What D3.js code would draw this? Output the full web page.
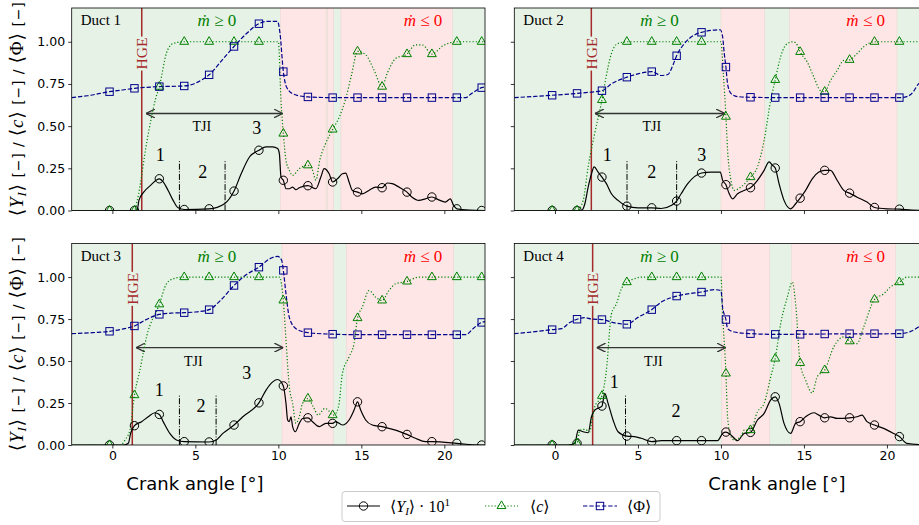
<!DOCTYPE html>
<html>
<head>
<meta charset="utf-8">
<script src="https://cdn.jsdelivr.net/npm/d3@7"></script>
<style>
  body { margin: 0; background: #fff; }
  svg { display: block; }
</style>
</head>
<body>
<div id="chart"></div>
<script>
// marker positions (crank angle) shared by every curve
var markerX = [-0.17, 1.33, 2.83, 4.33, 5.83, 7.33, 8.83, 10.3, 11.78, 13.27, 14.77, 16.25, 17.75, 19.25, 20.75, 22.25];

// ---- Duct 1
var duct1Yi = [[-2.45,0],[1.33,0],[1.5,0.004],[1.6,0.06],[1.9,0.11],[2.3,0.149],[2.83,0.188],[3.06,0.17],[3.36,0.119],[3.66,0.06],[3.96,0.016],[4.33,0.006],[5.83,0.01],[6.76,0.04],[7.33,0.115],[7.76,0.218],[8.26,0.317],[8.83,0.357],[9.26,0.377],[9.66,0.377],[9.96,0.367],[10.06,0.337],[10.16,0.198],[10.3,0.179],[10.46,0.129],[10.66,0.129],[10.86,0.139],[11.06,0.123],[11.26,0.135],[11.78,0.147],[12.26,0.129],[12.56,0.198],[12.76,0.248],[13.06,0.218],[13.27,0.169],[13.56,0.188],[13.86,0.218],[14.06,0.222],[14.26,0.169],[14.46,0.119],[14.77,0.109],[15.06,0.099],[15.46,0.119],[15.86,0.139],[16.25,0.135],[16.56,0.163],[16.86,0.159],[17.26,0.139],[17.75,0.109],[18.06,0.079],[18.46,0.06],[18.86,0.069],[19.25,0.08],[19.66,0.063],[20.06,0.05],[20.36,0.069],[20.56,0.03],[20.75,0.01],[21.5,0.002],[22.45,0]];
var duct1YiMk = [0, 0, 0.188, 0.006, 0.01, 0.115, 0.357, 0.179, 0.147, 0.169, 0.109, 0.135, 0.109, 0.08, 0.01, 0];
var duct1C = [[-2.45,0],[1.33,0],[1.5,0.06],[2.1,0.42],[2.6,0.66],[2.83,0.734],[3.26,0.933],[3.66,0.99],[4.33,1],[8.83,1],[10.0,1],[10.16,0.65],[10.3,0.456],[10.46,0.298],[10.66,0.238],[10.86,0.208],[11.26,0.248],[11.78,0.268],[12.06,0.238],[12.26,0.18],[12.5,0.3],[12.86,0.4],[13.27,0.48],[13.7,0.56],[14.05,0.66],[14.4,0.8],[14.77,0.943],[15.26,0.923],[15.76,0.833],[16.25,0.734],[16.56,0.813],[17.06,0.9],[17.75,0.927],[18.26,0.982],[18.7,0.98],[19.25,0.927],[19.9,0.975],[20.75,1],[22.45,1]];
var duct1CMk = [0, 0, 0.734, 1, 1, 1, 1, 0.456, 0.268, 0.48, 0.943, 0.734, 0.927, 0.927, 1, 1];
var duct1Phi = [[-2.45,0.669],[-1.5,0.68],[-0.17,0.704],[0.6,0.714],[1.33,0.724],[2.83,0.734],[4.33,0.738],[4.9,0.75],[5.4,0.775],[5.83,0.804],[6.6,0.89],[7.33,0.972],[8.1,1.05],[8.83,1.107],[9.3,1.121],[9.95,1.121],[10.1,1.05],[10.3,0.823],[10.5,0.73],[10.9,0.69],[11.78,0.673],[13.27,0.669],[21.3,0.669],[21.6,0.69],[21.9,0.71],[22.25,0.728],[22.45,0.732]];
var duct1PhiMk = [0.704, 0.724, 0.734, 0.738, 0.804, 0.972, 1.107, 0.823, 0.673, 0.669, 0.669, 0.669, 0.669, 0.669, 0.669, 0.728];
var duct1Neg = [[10.12,12.88],[12.95,13.32],[13.77,20.48]];

// ---- Duct 2
var duct2Yi = [[-2.45,0],[1.6,0],[1.8,0.04],[2.0,0.139],[2.2,0.218],[2.36,0.258],[2.6,0.228],[2.83,0.198],[3.1,0.159],[3.4,0.099],[3.8,0.06],[4.33,0.026],[5.0,0.016],[5.83,0.016],[6.4,0.012],[7.0,0.03],[7.33,0.056],[7.6,0.099],[8.0,0.159],[8.83,0.222],[9.4,0.228],[9.96,0.228],[10.1,0.179],[10.3,0.153],[10.5,0.099],[10.7,0.069],[11.0,0.099],[11.4,0.119],[11.78,0.135],[12.2,0.179],[12.6,0.238],[12.9,0.288],[13.1,0.268],[13.27,0.252],[13.5,0.159],[13.8,0.06],[14.2,0.01],[14.5,0.04],[14.77,0.073],[15.1,0.119],[15.5,0.188],[15.9,0.228],[16.25,0.238],[16.6,0.238],[17.0,0.179],[17.4,0.119],[17.75,0.103],[18.2,0.079],[18.8,0.05],[19.25,0.018],[20.0,0.01],[20.75,0.008],[21.5,0.002],[22.45,0]];
var duct2YiMk = [0, 0, 0.198, 0.026, 0.016, 0.056, 0.222, 0.153, 0.135, 0.252, 0.073, 0.238, 0.103, 0.018, 0.008, 0];
var duct2C = [[-2.45,0],[1.33,0],[1.7,0.06],[2.0,0.26],[2.4,0.46],[2.83,0.655],[3.0,0.75],[3.4,0.93],[3.8,0.99],[4.33,1],[10.0,1],[10.15,0.8],[10.3,0.556],[10.4,0.357],[10.6,0.179],[10.8,0.119],[11.2,0.139],[11.78,0.198],[12.2,0.258],[12.6,0.415],[13.0,0.655],[13.27,0.774],[13.6,0.913],[14.0,0.99],[14.36,1],[14.6,0.98],[14.77,0.94],[15.2,0.88],[15.6,0.79],[16.0,0.71],[16.25,0.704],[16.6,0.77],[17.0,0.83],[17.4,0.89],[17.75,0.893],[18.2,0.93],[18.6,0.97],[19.25,1],[22.45,1]];
var duct2CMk = [0, 0, 0.655, 1, 1, 1, 1, 0.556, 0.198, 0.774, 0.94, 0.704, 0.893, 1, 1, 1];
var duct2Phi = [[-2.45,0.669],[-1.2,0.676],[-0.17,0.683],[0.6,0.688],[1.33,0.694],[2.0,0.7],[2.83,0.71],[3.4,0.75],[4.33,0.79],[5.0,0.81],[5.83,0.823],[6.4,0.8],[6.8,0.806],[7.1,0.86],[7.33,0.917],[7.8,0.99],[8.4,1.04],[8.83,1.056],[9.4,1.067],[9.96,1.071],[10.1,1.03],[10.2,0.93],[10.3,0.85],[10.4,0.75],[10.6,0.694],[11.0,0.675],[11.78,0.671],[13.27,0.669],[20.75,0.669],[21.2,0.675],[21.6,0.705],[21.85,0.744],[22.25,0.77],[22.45,0.78]];
var duct2PhiMk = [0.683, 0.694, 0.71, 0.79, 0.823, 0.917, 1.056, 0.85, 0.671, 0.669, 0.669, 0.669, 0.669, 0.669, 0.669, 0.77];
var duct2Neg = [[10.0,12.64],[14.14,20.6]];

// ---- Duct 3
var duct3Yi = [[-2.45,0],[0.66,0],[0.96,0.01],[1.1,0.069],[1.33,0.115],[1.76,0.139],[2.16,0.168],[2.56,0.192],[2.83,0.182],[3.06,0.139],[3.46,0.069],[3.86,0.03],[4.33,0.02],[5.83,0.018],[6.26,0.03],[6.66,0.069],[7.33,0.119],[7.86,0.168],[8.83,0.251],[9.26,0.327],[9.66,0.376],[9.96,0.39],[10.3,0.352],[10.46,0.248],[10.56,0.148],[10.66,0.139],[10.76,0.168],[10.86,0.109],[11.02,0.079],[11.26,0.129],[11.46,0.158],[11.78,0.162],[12.06,0.139],[12.46,0.109],[12.86,0.129],[13.27,0.129],[13.46,0.139],[13.86,0.119],[14.26,0.149],[14.56,0.208],[14.77,0.257],[14.96,0.208],[15.26,0.149],[15.66,0.119],[16.25,0.109],[16.66,0.099],[17.06,0.089],[17.75,0.063],[18.26,0.04],[18.86,0.02],[19.25,0.02],[20.75,0.01],[21.5,0.003],[22.45,0]];
var duct3YiMk = [0, 0.115, 0.182, 0.02, 0.018, 0.119, 0.251, 0.352, 0.162, 0.129, 0.257, 0.109, 0.063, 0.02, 0.01, 0];
var duct3C = [[-2.45,0],[0.5,0],[0.76,0.03],[1.06,0.089],[1.33,0.297],[1.66,0.446],[2.06,0.644],[2.83,0.838],[3.26,0.96],[3.66,0.99],[4.33,1],[10.06,1],[10.3,0.861],[10.46,0.624],[10.66,0.347],[10.86,0.248],[11.06,0.129],[11.26,0.168],[11.46,0.248],[11.78,0.277],[12.1,0.228],[12.4,0.178],[12.8,0.218],[13.0,0.208],[13.27,0.178],[13.46,0.188],[13.66,0.248],[13.86,0.426],[14.26,0.525],[14.56,0.604],[14.77,0.756],[15.06,0.822],[15.46,0.92],[15.86,0.88],[16.25,0.861],[16.66,0.92],[17.06,0.96],[17.75,0.974],[18.46,1],[22.45,1]];
var duct3CMk = [0, 0.297, 0.838, 1, 1, 1, 1, 0.861, 0.277, 0.178, 0.756, 0.861, 0.974, 1, 1, 1];
var duct3Phi = [[-2.45,0.663],[-1.2,0.669],[-0.17,0.677],[0.6,0.69],[1.33,0.709],[2.0,0.745],[2.83,0.778],[3.5,0.785],[4.33,0.788],[5.0,0.792],[5.83,0.806],[6.5,0.86],[7.33,0.95],[8.0,1.01],[8.83,1.059],[9.5,1.11],[9.96,1.123],[10.2,1.1],[10.3,1.04],[10.46,0.9],[10.66,0.76],[11.06,0.693],[11.78,0.669],[13.27,0.66],[14.77,0.657],[21.3,0.657],[21.7,0.69],[22.0,0.715],[22.25,0.73],[22.45,0.735]];
var duct3PhiMk = [0.677, 0.709, 0.778, 0.788, 0.806, 0.95, 1.059, 1.04, 0.669, 0.66, 0.657, 0.657, 0.657, 0.657, 0.657, 0.73];
var duct3Neg = [[10.22,13.3],[14.1,20.55]];

// ---- Duct 4
var duct4Yi = [[-2.45,0],[0.8,0],[1.2,0.01],[1.4,0.089],[1.7,0.079],[2.0,0.073],[2.2,0.168],[2.4,0.208],[2.83,0.232],[3.0,0.307],[3.2,0.248],[3.5,0.149],[3.8,0.079],[4.33,0.053],[4.8,0.05],[5.2,0.04],[5.83,0.02],[6.4,0.026],[7.33,0.026],[8.83,0.026],[9.8,0.026],[10.1,0.069],[10.3,0.077],[10.6,0.06],[11.0,0.026],[11.4,0.069],[11.78,0.075],[12.2,0.149],[12.6,0.188],[13.0,0.268],[13.27,0.287],[13.5,0.248],[13.8,0.129],[14.2,0.069],[14.5,0.129],[14.77,0.139],[15.1,0.168],[15.6,0.192],[15.9,0.178],[16.25,0.162],[16.6,0.168],[17.0,0.158],[17.75,0.162],[18.2,0.168],[18.5,0.178],[18.8,0.139],[19.25,0.119],[19.8,0.099],[20.4,0.069],[20.75,0.05],[21.2,0.01],[22.45,0]];
var duct4YiMk = [0, 0.01, 0.232, 0.053, 0.02, 0.026, 0.026, 0.077, 0.075, 0.287, 0.139, 0.162, 0.162, 0.119, 0.05, 0];
var duct4C = [[-2.45,0],[0.8,0],[1.33,0.01],[1.5,0.089],[1.8,0.093],[2.1,0.079],[2.2,0.129],[2.4,0.228],[2.83,0.293],[3.1,0.446],[3.4,0.78],[3.7,0.84],[4.0,0.93],[4.33,0.97],[4.8,0.99],[5.2,1],[10.0,1],[10.1,0.78],[10.3,0.426],[10.4,0.168],[10.6,0.05],[10.8,0.03],[11.2,0.05],[11.4,0.089],[11.78,0.089],[12.2,0.198],[12.6,0.248],[13.0,0.406],[13.27,0.515],[13.6,0.723],[14.0,0.881],[14.3,0.97],[14.5,0.84],[14.77,0.489],[15.1,0.386],[15.5,0.31],[15.8,0.406],[16.25,0.446],[16.8,0.585],[17.4,0.644],[17.75,0.618],[18.2,0.604],[18.6,0.703],[19.25,0.867],[19.8,0.9],[20.2,0.94],[20.75,0.97],[21.2,1],[22.45,1]];
var duct4CMk = [0, 0.01, 0.293, 0.97, 1, 1, 1, 0.426, 0.089, 0.515, 0.489, 0.446, 0.618, 0.867, 0.97, 1];
var duct4Phi = [[-2.45,0.663],[-1.2,0.675],[-0.17,0.687],[0.4,0.693],[0.9,0.73],[1.33,0.749],[1.8,0.758],[2.2,0.75],[2.83,0.747],[3.6,0.727],[4.33,0.719],[5.0,0.76],[5.83,0.806],[6.4,0.851],[7.33,0.887],[8.0,0.9],[8.83,0.911],[9.6,0.925],[10.0,0.92],[10.1,0.82],[10.3,0.747],[10.4,0.693],[10.8,0.673],[11.78,0.663],[13.27,0.659],[16.25,0.661],[20.75,0.663],[21.4,0.675],[21.85,0.7],[22.25,0.73],[22.45,0.74]];
var duct4PhiMk = [0.687, 0.749, 0.747, 0.719, 0.806, 0.887, 0.911, 0.747, 0.663, 0.659, 0.659, 0.661, 0.663, 0.663, 0.663, 0.73];
var duct4Neg = [[10.04,12.94],[14.26,20.52]];

// annotations (crank angle / value)
var ductNames = ["Duct 1", "Duct 2", "Duct 3", "Duct 4"];
var hgeX = [1.77, 2.19, 1.2, 2.27];
var tjiFrom = [2.03, 2.41, 1.43, 2.51];
var tjiTo = [10.26, 10.24, 10.3, 10.3];
var tjiY = [0.575, 0.575, 0.58, 0.58];
var tjiTextX = [5.39, 5.83, 4.88, 5.92];
var dividerX = [[4.04, 6.79], [4.34, 7.33], [4.04, 6.25], [4.25]];
var phaseLabels = [
  [[2.88, 0.33, "1"], [5.45, 0.23, "2"], [8.7, 0.49, "3"]],
  [[3.15, 0.33, "1"], [5.83, 0.23, "2"], [8.84, 0.33, "3"]],
  [[2.83, 0.33, "1"], [5.34, 0.23, "2"], [8.1, 0.43, "3"]],
  [[3.57, 0.377, "1"], [7.29, 0.2, "2"]]
];
var xTicks = [0, 5, 10, 15, 20];
var yTicks = [0, 0.25, 0.5, 0.75, 1.0];

var ducts = [
  {yi: duct1Yi, yiMk: duct1YiMk, c: duct1C, cMk: duct1CMk, phi: duct1Phi, phiMk: duct1PhiMk, neg: duct1Neg},
  {yi: duct2Yi, yiMk: duct2YiMk, c: duct2C, cMk: duct2CMk, phi: duct2Phi, phiMk: duct2PhiMk, neg: duct2Neg},
  {yi: duct3Yi, yiMk: duct3YiMk, c: duct3C, cMk: duct3CMk, phi: duct3Phi, phiMk: duct3PhiMk, neg: duct3Neg},
  {yi: duct4Yi, yiMk: duct4YiMk, c: duct4C, cMk: duct4CMk, phi: duct4Phi, phiMk: duct4PhiMk, neg: duct4Neg}
];

var svgWidth = 919, svgHeight = 525;
var colLeft = [71.7, 514.3];
var plotW = 413.3;
var rowTop = [8, 243.5], rowBottom = [210.5, 445];

var green = "#e6f2e6", pink = "#ffe6e6";
var serif = "'Liberation Serif', 'DejaVu Serif', serif";
var sans = "'DejaVu Sans', sans-serif";

var svg = d3.select("#chart").append("svg")
  .attr("width", svgWidth)
  .attr("height", svgHeight);

var defs = svg.append("defs");
defs.append("marker")
  .attr("id", "arrow")
  .attr("viewBox", "0 0 10 10")
  .attr("refX", 10).attr("refY", 5)
  .attr("markerWidth", 9).attr("markerHeight", 9)
  .attr("markerUnits", "userSpaceOnUse")
  .attr("orient", "auto-start-reverse")
  .append("path")
  .attr("d", "M0,0 L10,5 L0,10")
  .attr("fill", "none")
  .attr("stroke", "#333")
  .attr("stroke-width", 1.4);

ducts.forEach(function(d, i) {
  var col = i % 2, row = Math.floor(i / 2);
  var h = rowBottom[row] - rowTop[row];

  var x = d3.scaleLinear().domain([-2.45, 22.45]).range([0, plotW]);
  var y = d3.scaleLinear().domain([0, 1.2]).range([h, 0]);

  var g = svg.append("g")
    .attr("transform", `translate(${colLeft[col]}, ${rowTop[row]})`);

  defs.append("clipPath").attr("id", "clip" + i)
    .append("rect").attr("width", plotW).attr("height", h);

  var plot = g.append("g").attr("clip-path", `url(#clip${i})`);

  // background: green where mass flow >= 0, pink where <= 0
  plot.append("rect").attr("width", plotW).attr("height", h).attr("fill", green);
  plot.selectAll(".neg")
    .data(d.neg)
    .enter()
    .append("rect")
    .attr("x", s => x(s[0]))
    .attr("width", s => x(s[1]) - x(s[0]))
    .attr("y", 0)
    .attr("height", h)
    .attr("fill", pink)
    .attr("stroke", "#ecd8cf")
    .attr("stroke-width", 0.6);

  // HGE line
  plot.append("line")
    .attr("x1", x(hgeX[i])).attr("x2", x(hgeX[i]))
    .attr("y1", 0).attr("y2", h)
    .attr("stroke", "#a52a2a")
    .attr("stroke-width", 1.5);

  // phase dividers
  plot.selectAll(".div")
    .data(dividerX[i])
    .enter()
    .append("line")
    .attr("x1", v => x(v)).attr("x2", v => x(v))
    .attr("y1", y(0)).attr("y2", y(0.3))
    .attr("stroke", "#000")
    .attr("stroke-width", 1)
    .attr("stroke-dasharray", "6,1.6,1,1.6");

  // TJI arrow
  plot.append("line")
    .attr("x1", x(tjiFrom[i])).attr("x2", x(tjiTo[i]))
    .attr("y1", y(tjiY[i])).attr("y2", y(tjiY[i]))
    .attr("stroke", "#333")
    .attr("stroke-width", 1.4)
    .attr("marker-start", "url(#arrow)")
    .attr("marker-end", "url(#arrow)");
  plot.append("text")
    .attr("x", x(tjiTextX[i]))
    .attr("y", y(0.5))
    .attr("text-anchor", "middle")
    .attr("dominant-baseline", "central")
    .attr("font-family", serif)
    .attr("font-size", 14)
    .text("TJI");

  plot.selectAll(".phase")
    .data(phaseLabels[i])
    .enter()
    .append("text")
    .attr("x", p => x(p[0]))
    .attr("y", p => y(p[1]))
    .attr("text-anchor", "middle")
    .attr("dominant-baseline", "central")
    .attr("font-family", serif)
    .attr("font-size", 18)
    .text(p => p[2]);

  // curves
  var line = d3.line()
    .x(p => x(p[0]))
    .y(p => y(p[1]))
    .curve(d3.curveMonotoneX);

  plot.append("path")
    .attr("d", line(d.yi))
    .attr("fill", "none")
    .attr("stroke", "#000")
    .attr("stroke-width", 1.2);
  plot.append("path")
    .attr("d", line(d.c))
    .attr("fill", "none")
    .attr("stroke", "green")
    .attr("stroke-width", 1.2)
    .attr("stroke-dasharray", "1.2,2");
  plot.append("path")
    .attr("d", line(d.phi))
    .attr("fill", "none")
    .attr("stroke", "#00008b")
    .attr("stroke-width", 1.2)
    .attr("stroke-dasharray", "4.4,1.9");

  // markers
  plot.selectAll(".mkYi")
    .data(d.yiMk)
    .enter()
    .append("circle")
    .attr("cx", (v, k) => x(markerX[k]))
    .attr("cy", v => y(v))
    .attr("r", 4.2)
    .attr("fill", "none")
    .attr("stroke", "#000")
    .attr("stroke-width", 1);
  var tri = d3.symbol().type(d3.symbolTriangle).size(34);
  plot.selectAll(".mkC")
    .data(d.cMk)
    .enter()
    .append("path")
    .attr("d", tri)
    .attr("transform", (v, k) => `translate(${x(markerX[k])}, ${y(v)})`)
    .attr("fill", "none")
    .attr("stroke", "green")
    .attr("stroke-width", 1);
  plot.selectAll(".mkPhi")
    .data(d.phiMk)
    .enter()
    .append("rect")
    .attr("x", (v, k) => x(markerX[k]) - 3.7)
    .attr("y", v => y(v) - 3.7)
    .attr("width", 7.4)
    .attr("height", 7.4)
    .attr("fill", "none")
    .attr("stroke", "#00008b")
    .attr("stroke-width", 1);

  // HGE label with background box
  var hg = plot.append("g")
    .attr("transform", `translate(${x(hgeX[i])}, ${y(0.93)}) rotate(-90)`);
  hg.append("rect")
    .attr("x", -17).attr("y", -6.5)
    .attr("width", 34).attr("height", 13)
    .attr("fill", green);
  hg.append("text")
    .attr("text-anchor", "middle")
    .attr("dominant-baseline", "central")
    .attr("font-family", serif)
    .attr("font-size", 15.5)
    .attr("fill", "#a52a2a")
    .text("HGE");

  // labels
  plot.append("text")
    .attr("x", 9).attr("y", 17)
    .attr("font-family", serif)
    .attr("font-size", 15)
    .text(ductNames[i]);

  var pos = plot.append("text")
    .attr("x", x(6.3)).attr("y", 18)
    .attr("text-anchor", "middle")
    .attr("font-family", serif)
    .attr("font-size", 17)
    .attr("fill", "green");
  pos.append("tspan").attr("font-style", "italic").text("ṁ");
  pos.append("tspan").text(" ≥ 0");
  var neg = plot.append("text")
    .attr("x", x(18.72)).attr("y", 18)
    .attr("text-anchor", "middle")
    .attr("font-family", serif)
    .attr("font-size", 17)
    .attr("fill", "red");
  neg.append("tspan").attr("font-style", "italic").text("ṁ");
  neg.append("tspan").text(" ≤ 0");

  // axes
  var xAxis = d3.axisBottom(x).tickValues(xTicks).tickSize(3.5).tickPadding(3);
  var yAxis = d3.axisLeft(y).tickValues(yTicks).tickSize(3.5).tickPadding(3);
  if (row === 0) xAxis.tickFormat("");
  else xAxis.tickFormat(d3.format("d"));
  if (col === 1) yAxis.tickFormat("");
  else yAxis.tickFormat(d3.format(".2f"));

  var xg = g.append("g").attr("transform", `translate(0, ${h})`).call(xAxis);
  var yg = g.append("g").call(yAxis);
  [xg, yg].forEach(function(a) {
    a.select(".domain").remove();
    a.selectAll(".tick line").attr("stroke", "#000").attr("stroke-width", 0.8);
    a.selectAll(".tick text")
      .attr("font-family", sans)
      .attr("font-size", 12.5)
      .attr("fill", "#000");
  });

  g.append("rect")
    .attr("width", plotW).attr("height", h)
    .attr("fill", "none")
    .attr("stroke", "#000")
    .attr("stroke-width", 0.8);
});

// y axis labels
[0, 1].forEach(function(row) {
  var cy = (rowTop[row] + rowBottom[row]) / 2;
  var t = svg.append("text")
    .attr("transform", `translate(23, ${cy}) rotate(-90)`)
    .attr("text-anchor", "middle")
    .attr("font-family", serif)
    .attr("font-size", 19)
    .attr("textLength", 214)
    .attr("lengthAdjust", "spacing");
  t.append("tspan").text("⟨");
  t.append("tspan").attr("font-style", "italic").text("Y");
  t.append("tspan").attr("font-style", "italic").attr("font-size", 13).attr("dy", 3).text("I");
  t.append("tspan").attr("dy", -3).text("⟩ ");
  t.append("tspan").attr("font-family", sans).attr("font-size", 14).text("[−] / ");
  t.append("tspan").text("⟨");
  t.append("tspan").attr("font-style", "italic").text("c");
  t.append("tspan").text("⟩ ");
  t.append("tspan").attr("font-family", sans).attr("font-size", 14).text("[−] / ");
  t.append("tspan").text("⟨Φ⟩ ");
  t.append("tspan").attr("font-family", sans).attr("font-size", 14).text("[−]");
});

// x axis labels
[195, 777].forEach(function(cx) {
  svg.append("text")
    .attr("x", cx).attr("y", 490)
    .attr("text-anchor", "middle")
    .attr("font-family", sans)
    .attr("font-size", 18)
    .text("Crank angle [°]");
});

// legend
var lg = svg.append("g");
lg.append("rect")
  .attr("x", 342).attr("y", 491.5)
  .attr("width", 318).attr("height", 30)
  .attr("rx", 3)
  .attr("fill", "#fff")
  .attr("stroke", "#ccc")
  .attr("stroke-width", 1);
var ly = 506;
lg.append("line").attr("x1", 347).attr("x2", 380).attr("y1", ly).attr("y2", ly)
  .attr("stroke", "#000").attr("stroke-width", 1.2);
lg.append("circle").attr("cx", 363.5).attr("cy", ly).attr("r", 4.2)
  .attr("fill", "none").attr("stroke", "#000");
lg.append("line").attr("x1", 485).attr("x2", 518).attr("y1", ly).attr("y2", ly)
  .attr("stroke", "green").attr("stroke-width", 1.2).attr("stroke-dasharray", "1.2,2");
lg.append("path").attr("d", d3.symbol().type(d3.symbolTriangle).size(34))
  .attr("transform", `translate(501.5, ${ly})`)
  .attr("fill", "none").attr("stroke", "green");
lg.append("line").attr("x1", 583).attr("x2", 617).attr("y1", ly).attr("y2", ly)
  .attr("stroke", "#00008b").attr("stroke-width", 1.2).attr("stroke-dasharray", "4.4,1.9");
lg.append("rect").attr("x", 596.3).attr("y", ly - 3.7).attr("width", 7.4).attr("height", 7.4)
  .attr("fill", "none").attr("stroke", "#00008b");

var t1 = lg.append("text").attr("x", 390).attr("y", ly + 5.5)
  .attr("font-family", serif).attr("font-size", 16);
t1.append("tspan").text("⟨");
t1.append("tspan").attr("font-style", "italic").text("Y");
t1.append("tspan").attr("font-style", "italic").attr("font-size", 11).attr("dy", 3).text("I");
t1.append("tspan").attr("dy", -3).text("⟩ · 10");
t1.append("tspan").attr("font-size", 11).attr("dy", -6).text("1");
var t2 = lg.append("text").attr("x", 530).attr("y", ly + 5.5)
  .attr("font-family", serif).attr("font-size", 16);
t2.append("tspan").text("⟨");
t2.append("tspan").attr("font-style", "italic").text("c");
t2.append("tspan").text("⟩");
lg.append("text").attr("x", 627).attr("y", ly + 5.5)
  .attr("font-family", serif).attr("font-size", 16)
  .text("⟨Φ⟩");
</script>
</body>
</html>
